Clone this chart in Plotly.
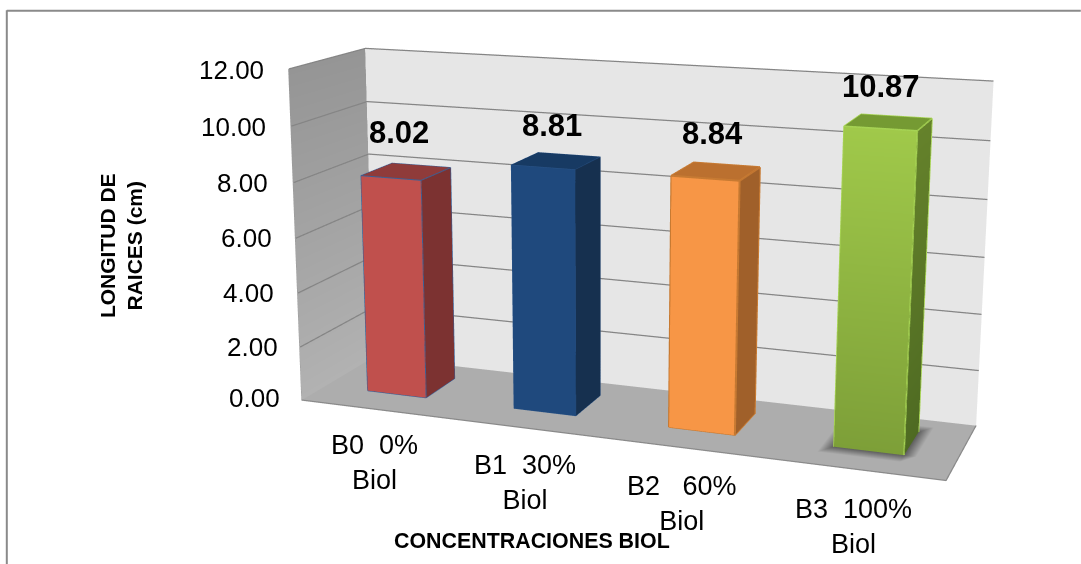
import numpy as np
import plotly.graph_objects as go

categories = ["B0  0%<br>Biol", "B1  30%<br>Biol", "B2   60%<br>Biol", "B3  100%<br>Biol"]
values = [8.02, 8.81, 8.84, 10.87]
value_labels = ["8.02", "8.81", "8.84", "10.87"]
z_ticks = [0, 2, 4, 6, 8, 10, 12]

# camera and box proportions (scene coordinates)
eye = dict(x=0.9028, y=-2.5594, z=0.6581)
center = dict(x=-0.0473, y=-0.0202, z=-0.0094)
up = dict(x=-0.0002, y=0.0035, z=1)
ay, az = 0.2458, 0.5167
bw, y0, y1 = 0.4070, 0.3212, 0.7513
F, cx, cy = 1878.668, 598.1956, 253.7346

Hp = int(round(2 * F * np.tan(np.pi / 8)))
Wp = int(2 * max(cx, 1081 - cx)) + 2
ox = Wp / 2 - cx
oy = Hp / 2 - cy
def X(w): return (w + ox) / Wp
def Y(w): return 1 - (w + oy) / Hp

TEXT = "Liberation Sans"
LIGHT = dict(ambient=1, diffuse=0, specular=0, roughness=1, fresnel=0)
bar_colors = [
    dict(front=("#C0504D", "#C0504D"), side=("#7C3231", "#7C3231"), top="#8F3B3A", edge="#3B6096", ew=2),
    dict(front=("#1F497D", "#1F497D"), side=("#16304F", "#16304F"), top="#173A63", edge="#2A5488", ew=1),
    dict(front=("#F79646", "#F79646"), side=("#A0602A", "#A0602A"), top="#BB702F", edge="#C77A32", ew=4),
    dict(front=("#A0C94A", "#7D9F38"), side=("#65822B", "#4E6A22"), top="#759A33", edge="#A6D354", ew=3),
]
fig = go.Figure()

# left wall gradient
fig.add_trace(go.Mesh3d(x=[0.002] * 4, y=[0, 1, 1, 0], z=[0, 0, 12, 12], i=[0, 0], j=[1, 2], k=[2, 3],
                        vertexcolor=["#B2B2B2", "#B2B2B2", "#959595", "#959595"], flatshading=True,
                        lighting=LIGHT, hoverinfo="skip", showscale=False))

# gridlines on the walls
gx, gy, gz = [], [], []
for t in z_ticks[1:]:
    gx += [0.006, 0.006, 4, None]
    gy += [0, 0.996, 0.996, None]
    gz += [t, t, t, None]
fig.add_trace(go.Scatter3d(x=gx, y=gy, z=gz, mode="lines", line=dict(color="#858585", width=2.5),
                           hoverinfo="skip", showlegend=False))
# floor edges
fig.add_trace(go.Scatter3d(x=[0, 4, 4], y=[0, 0, 1], z=[0.01, 0.01, 0.01], mode="lines",
                           line=dict(color="#8A8A8A", width=2.5), hoverinfo="skip", showlegend=False))

# soft shadow under the last bar
l3, r3 = 3.5 - bw / 2, 3.5 + bw / 2
sx = [l3 - 0.07, l3, r3, r3 + 0.07]
sy = [y0 - 0.12, y0, y1, y1 + 0.12]
vx, vy, vc, ii, jj, kk = [], [], [], [], [], []
for b in range(4):
    for a in range(4):
        vx.append(sx[a]); vy.append(sy[b])
        vc.append("#5E5E5E" if a in (1, 2) and b in (1, 2) else "#ADADAD")
for b in range(3):
    for a in range(3):
        n = b * 4 + a
        ii += [n, n]; jj += [n + 1, n + 5]; kk += [n + 5, n + 4]
fig.add_trace(go.Mesh3d(x=vx, y=vy, z=[0.02] * 16, i=ii, j=jj, k=kk, vertexcolor=vc, flatshading=True,
                        lighting=LIGHT, hoverinfo="skip", showscale=False))

for i, h in enumerate(values):
    l = i + .5 - bw / 2
    rr = i + .5 + bw / 2
    col = bar_colors[i]
    xs = [l, rr, rr, l, rr, rr, rr, rr, l, rr, rr, l]
    ys = [y0, y0, y0, y0, y0, y1, y1, y0, y0, y0, y1, y1]
    zs = [0, 0, h, h, 0, 0, h, h, h, h, h, h]
    vcol = [col['front'][1]] * 2 + [col['front'][0]] * 2 + [col['side'][1]] * 2 + [col['side'][0]] * 2 + [col['top']] * 4
    fig.add_trace(go.Mesh3d(x=xs, y=ys, z=zs, i=[0, 0, 4, 4, 8, 8], j=[1, 2, 5, 6, 9, 10], k=[2, 3, 6, 7, 10, 11],
                            vertexcolor=vcol, flatshading=True, lighting=LIGHT, hoverinfo="skip", showscale=False))
    ex = [l, rr, rr, l, l, None, l, l, rr, rr, None, rr, rr, rr]
    ey = [y0, y0, y0, y0, y0, None, y0, y1, y1, y0, None, y0, y1, y1]
    ez = [0, 0, h, h, 0, None, h, h, h, h, None, 0, 0, h]
    fig.add_trace(go.Scatter3d(x=ex, y=ey, z=ez, mode="lines", line=dict(color=col['edge'], width=col['ew']),
                               hoverinfo="skip", showlegend=False))

axis_off = dict(showticklabels=False, ticks="", showgrid=False, zeroline=False, title=dict(text=""),
                showspikes=False, showline=False)
annots = []
value_shift = [(8, 26), (9.5, 22), (7, 25), (0.5, 22)]
for i, (c, v) in enumerate(zip(value_labels, values)):
    annots.append(dict(x=i + .5, y=y0, z=v, text="<b>" + c + "</b>", showarrow=False, yanchor="bottom", xanchor="center",
                       font=dict(family=TEXT, size=31, color="#000"), xshift=value_shift[i][0], yshift=value_shift[i][1]))
cat_shift = [(1, -53), (0, -54), (-3, -55), (-2.5, -57)]
for i, c in enumerate(categories):
    annots.append(dict(x=i + .5, y=0, z=0, text=c.replace("  ", "\u00a0\u00a0"), showarrow=False,
                       font=dict(family=TEXT, size=27, color="#000"), xshift=cat_shift[i][0], yshift=cat_shift[i][1]))
tick_xshift = [-19, -19, -21, -21, -23, -22, -22]
tick_yshift = [2, 0, 0, 0, 0, -1, -1]
for k, t in enumerate(z_ticks):
    annots.append(dict(x=0, y=0, z=t, text=f"{t:.2f}", showarrow=False, xanchor="right",
                       xshift=tick_xshift[k], yshift=tick_yshift[k],
                       font=dict(family=TEXT, size=26, color="#000")))

shapes = [
    dict(type="line", xref="paper", yref="paper", x0=X(7), x1=X(1081), y0=Y(10.5), y1=Y(10.5), line=dict(color="#8a8a8a", width=2)),
    dict(type="line", xref="paper", yref="paper", x0=X(7), x1=X(7), y0=Y(564), y1=Y(10), line=dict(color="#8a8a8a", width=2)),
]
fig.update_layout(
    width=Wp, height=Hp, margin=dict(l=0, r=0, t=0, b=0), paper_bgcolor="white", showlegend=False, shapes=shapes,
    scene=dict(
        domain=dict(x=[0, 1], y=[0, 1]), aspectmode="manual", aspectratio=dict(x=1, y=ay, z=az),
        camera=dict(eye=eye, center=center, up=up, projection=dict(type="perspective")),
        xaxis=dict(range=[0, 4], backgroundcolor="#9a9a9a", showbackground=True, **axis_off),
        yaxis=dict(range=[0, 1], backgroundcolor="#E6E6E6", showbackground=True, **axis_off),
        zaxis=dict(range=[0, 12], tickvals=z_ticks, backgroundcolor="#ADADAD", showbackground=True, **axis_off),
        annotations=annots),
    annotations=[
        dict(xref="paper", yref="paper", x=X(121), y=Y(245), xanchor="center", yanchor="middle",
             text="<b>LONGITUD DE<br>RAICES (cm)</b>", textangle=-90,
             showarrow=False, font=dict(family=TEXT, size=21, color="#000")),
        dict(xref="paper", yref="paper", x=X(532.5), y=Y(541), xanchor="center", yanchor="middle",
             text="<b>CONCENTRACIONES BIOL</b>", showarrow=False,
             font=dict(family=TEXT, size=21.4, color="#000")),
    ])
fig.write_html("out.html", config=dict(displayModeBar=False),
               post_script=f"document.body.style.margin='0';document.documentElement.style.overflow='hidden';document.body.style.overflow='hidden';document.body.style.marginLeft='{-ox}px';document.body.style.marginTop='{-oy}px';")
